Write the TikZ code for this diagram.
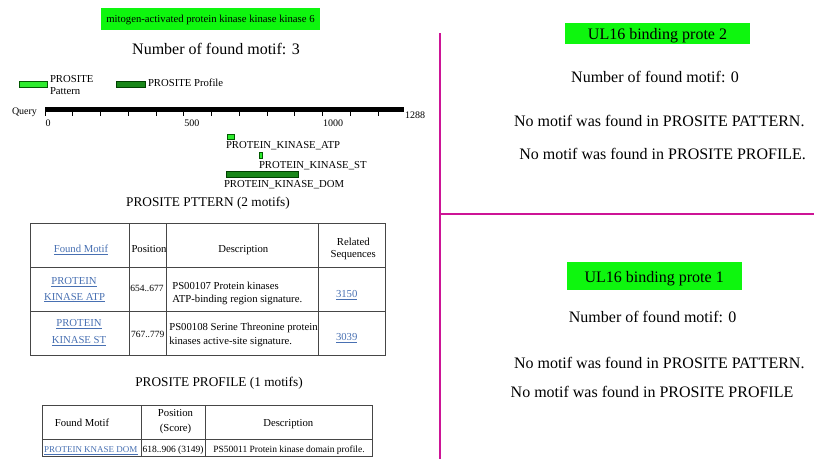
\documentclass[tikz,border=0pt]{standalone}
\usepackage{fontspec}
\setmainfont{Liberation Serif}
\usepackage{xcolor}
\usepackage{tikz}
\usetikzlibrary{positioning}

\definecolor{namegreen}{RGB}{14,246,14}
\definecolor{patgreen}{RGB}{45,235,45}
\definecolor{profgreen}{RGB}{25,135,25}
\definecolor{linkblue}{RGB}{72,112,178}
\definecolor{splitpink}{RGB}{205,20,150}
\definecolor{gridgray}{RGB}{70,70,70}

\newcommand{\fsbig}{\fontsize{16}{19}\selectfont}
\newcommand{\fshead}{\fontsize{13.3}{16}\selectfont}
\newcommand{\fstab}{\fontsize{10.7}{13}\selectfont}
\newcommand{\fspos}{\fontsize{9.5}{11}\selectfont}
\newcommand{\fsrow}{\fontsize{9}{11}\selectfont}
\newcommand{\motiflink}[1]{\textcolor{linkblue}{\underline{#1}}}

\tikzset{
	every node/.style = {inner sep = 0pt, outer sep = 0pt},
	txt/.style = {anchor = base},
	txtl/.style = {anchor = base west},
	namebox/.style = {fill = namegreen, anchor = base},
	patbar/.style = {fill = patgreen, draw = green!35!black, line width = 0.6pt},
	profbar/.style = {fill = profgreen, draw = black!75!green, line width = 0.6pt},
	tabline/.style = {draw = gridgray, line width = 1pt},
	splitline/.style = {draw = splitpink, line width = 2.5pt}
}

\begin{document}
\begin{tikzpicture}[x = 1pt, y = -1pt]
	\def\sc{0.2775}
	\useasboundingbox (0,0) rectangle (814,459);

	% left panel
	\node[namebox, minimum width = 219pt, text height = 14.4pt, text depth = 7.3pt] (name6) at (210.5,22.7) {\fontsize{10.7}{12}\selectfont mitogen-activated protein kinase kinase kinase 6};
	\node[txt] (count6) at (216,54) {\fsbig Number of found motif: 3};

	% legend
	\filldraw[patbar] (19,81) rectangle (47,87.5);
	\node[txtl] (legpat) at (50,82.7) {\fstab PROSITE};
	\node[txtl] (legpatb) at (50,94) {\fstab Pattern};
	\filldraw[profbar] (116,81) rectangle (145.5,87.5);
	\node[txtl] (legprof) at (148,86.5) {\fstab PROSITE Profile};

	% query ruler
	\node[anchor = base east] (query) at (37,114) {\fontsize{10}{12}\selectfont Query};
	\fill (45,107) rectangle (404,112);
	\foreach \t in {0,100,...,1200}
		\draw[line width = 0.8pt] (45+\t*\sc,107) -- (45+\t*\sc,116);
	\foreach \t in {0,500,1000}
		\node[txtl] (tick\t) at (45.5+\t*\sc,126.5) {\fontsize{10}{12}\selectfont \t};
	\node[txtl] (qend) at (405,118) {\fontsize{10}{12}\selectfont 1288};

	% hits
	\filldraw[patbar] (227,134.5) rectangle (234,139);
	\node[txtl] (atp) at (226,148.3) {\fstab PROTEIN\_KINASE\_ATP};
	\filldraw[patbar] (259,152) rectangle (262.5,158.5);
	\node[txtl] (st) at (259,168.3) {\fstab PROTEIN\_KINASE\_ST};
	\filldraw[profbar] (226,171) rectangle (298,177.5);
	\node[txtl] (dom) at (224,187.3) {\fstab PROTEIN\_KINASE\_DOM};

	% pattern table
	\node[txt] (pathead) at (208,206) {\fshead PROSITE PTTERN (2 motifs)};
	\draw[tabline] (30,223.3) rectangle (385,355.7);
	\draw[tabline] (30,267.7) -- (385,267.7) (30,311.7) -- (385,311.7);
	\draw[tabline] (129.3,223.3) -- (129.3,355.7) (166.7,223.3) -- (166.7,355.7) (318.3,223.3) -- (318.3,355.7);
	\node[txt] (pfound) at (81,252.3) {\fstab\motiflink{Found Motif}};
	\node[txtl] (ppos) at (131.5,252.3) {\fstab Position};
	\node[txt] (pdesc) at (243.3,252.3) {\fstab Description};
	\node[txt] (prel) at (353.3,245) {\fstab Related};
	\node[txt] (pseq) at (353.3,257.5) {\fstab Sequences};

	\node[txt] (atpa) at (74,284.3) {\fstab\motiflink{PROTEIN}};
	\node[txt] (atpb) at (74.5,300) {\fstab\motiflink{KINASE ATP}};
	\node[txtl] (atppos) at (130.3,291.7) {\fspos 654..677};
	\node[txtl] (atpdsa) at (172.3,289.5) {\fstab PS00107 Protein kinases};
	\node[txtl] (atpdsb) at (172.3,302) {\fstab ATP-binding region signature.};
	\node[txt] (atprel) at (346.7,297.3) {\fstab\motiflink{3150}};

	\node[txt] (sta) at (79,326.7) {\fstab\motiflink{PROTEIN}};
	\node[txt] (stb) at (79,343.3) {\fstab\motiflink{KINASE ST}};
	\node[txtl] (stpos) at (131,337.7) {\fspos 767..779};
	\node[txtl] (stdsa) at (169.3,330.5) {\fstab PS00108 Serine Threonine protein};
	\node[txtl] (stdsb) at (169.3,344.3) {\fstab kinases active-site signature.};
	\node[txt] (strel) at (346.7,340.7) {\fstab\motiflink{3039}};

	% profile table
	\node[txt] (profhead) at (219,386.7) {\fshead PROSITE PROFILE (1 motifs)};
	\draw[tabline] (42.7,405) rectangle (372.3,456.7);
	\draw[tabline] (42.7,439.3) -- (372.3,439.3);
	\draw[tabline] (141.5,405) -- (141.5,456.7) (205.7,405) -- (205.7,456.7);
	\node[txt] (ffound) at (82,426.7) {\fstab Found Motif};
	\node[txt] (fpos) at (175.5,416.7) {\fstab Position};
	\node[txt] (fscore) at (175.5,431.2) {\fstab (Score)};
	\node[txt] (fdesc) at (288.3,426.7) {\fstab Description};
	\node[txtl] (domlink) at (44,452.5) {\fsrow\motiflink{PROTEIN KNASE DOM}};
	\node[txtl] (dompos) at (142.5,452) {\fspos 618..906 (3149)};
	\node[txtl] (domdesc) at (213.3,452) {\fspos PS50011 Protein kinase domain profile.};

	% split lines
	\coordinate (vtop) at (439.8,33);
	\coordinate (vbot) at (439.8,459);
	\coordinate (hleft) at (439.8,213.8);
	\coordinate (hright) at (814,213.8);
	\draw[splitline] (vtop) -- (vbot);
	\draw[splitline] (hleft) -- (hright);

	% right panel, upper
	\node[namebox, minimum width = 185pt, text height = 16.6pt, text depth = 4.7pt] (name2) at (657.5,39.3) {\fsbig UL16 binding prote 2};
	\node[txt] (count2) at (655,82.7) {\fsbig Number of found motif: 0};
	\node[txtl] (nopat2) at (514,126) {\fsbig No motif was found in PROSITE PATTERN.};
	\node[txtl] (noprof2) at (519.3,159.3) {\fsbig No motif was found in PROSITE PROFILE.};

	% right panel, lower
	\node[namebox, minimum width = 175pt, text height = 20.6pt, text depth = 7.7pt] (name1) at (654.2,282.3) {\fsbig UL16 binding prote 1};
	\node[txt] (count1) at (652.7,322.7) {\fsbig Number of found motif: 0};
	\node[txtl] (nopat1) at (514,368.3) {\fsbig No motif was found in PROSITE PATTERN.};
	\node[txtl] (noprof1) at (510.7,397.3) {\fsbig No motif was found in PROSITE PROFILE};
\end{tikzpicture}
\end{document}
